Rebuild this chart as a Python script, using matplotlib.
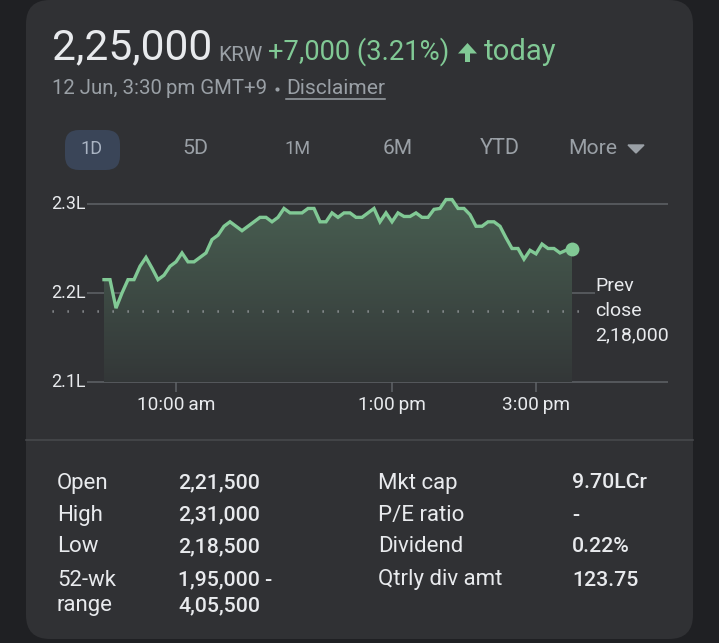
import numpy as np
import matplotlib
matplotlib.use("Agg")
import matplotlib.pyplot as plt
from matplotlib.patches import FancyBboxPatch

# ---------------- data ----------------
minutes = list(range(0, 391, 5))  # minutes after 9:00 am, 5-minute bars
prices = [221500, 221500, 218300, 220000, 221500, 221500, 223000, 224000, 222800, 221500,
          222000, 223000, 223500, 224500, 223500, 223500, 224000, 224500, 226000, 226500,
          227500, 228000, 227500, 227000, 227500, 228000, 228500, 228500, 228000, 228500,
          229500, 229000, 229000, 229000, 229500, 229500, 228000, 228000, 229000, 228500,
          229000, 229000, 228500, 228500, 229000, 229500, 228000, 229000, 228000, 229000,
          228600, 228600, 229000, 228500, 228500, 229400, 229500, 230500, 230500, 229500,
          229500, 228800, 227500, 227500, 228000, 228000, 227500, 226200, 225000, 225000,
          223800, 224800, 224400, 225500, 225000, 225000, 224500, 224800, 225000]
prev_close = 218000
y_ticks = [210000, 220000, 230000]
y_tick_labels = ["2.1L", "2.2L", "2.3L"]
x_ticks = [60, 240, 360]
x_tick_labels = ["10:00\u2009am", "1:00\u2009pm", "3:00\u2009pm"]
ranges = ["1D", "5D", "1M", "6M", "YTD", "More"]
stat_labels_left = ["Open", "High", "Low", "52-wk", "range"]
stat_values_left = ["2,21,500", "2,31,000", "2,18,500", "1,95,000 -", "4,05,500"]
stat_labels_right = ["Mkt cap", "P/E ratio", "Dividend", "Qtrly div amt"]
stat_values_right = ["9.70LCr", "-", "0.22%", "123.75"]

# ---------------- style ----------------
W, H = 719, 643
OUTER = "#1f2023"
CARD = "#303134"
GREEN = "#81c995"
WHITE = "#e8eaed"
GREY = "#9aa0a6"
GRID = "#5f6368"
FONT = ["Roboto", "DejaVu Sans"]
plt.rcParams["font.family"] = FONT

fig = plt.figure(figsize=(W / 100, H / 100), dpi=100)
fig.patch.set_facecolor(OUTER)
renderer = fig.canvas.get_renderer()

def fx(px):
    return px / W

def fy(py):
    return 1 - py / H

def fit(x, y, s, width, color, ha="left", **kw):
    """place text at pixel (x, y) (centre vertically) scaled to a target pixel width"""
    t = fig.text(fx(x), fy(y), s, fontsize=10, color=color, ha=ha, va="center", **kw)
    w = t.get_window_extent(renderer).width
    t.set_fontsize(10 * width / w)
    return t

def size_for(s, width, **kw):
    probe = fig.text(0, 0, s, fontsize=10, **kw)
    w = probe.get_window_extent(renderer).width
    probe.remove()
    return 10 * width / w

# card
bg = fig.add_axes([0, 0, 1, 1])
bg.set_xlim(0, W)
bg.set_ylim(H, 0)
bg.axis("off")
R = 24
bg.add_patch(FancyBboxPatch((26 + R, 0 + R), 667 - 2 * R, 639 - 2 * R,
                            boxstyle=f"round,pad={R}", fc=CARD, ec="none"))
bg.plot([26, 693], [440, 440], color="#46484c", lw=1.2)
# 1D highlight
bg.add_patch(FancyBboxPatch((65 + 14, 130 + 14), 55 - 28, 40 - 28,
                            boxstyle="round,pad=14", fc="#3a4558", ec="none"))

# header
fit(52, 48, "2,25,000", 159, WHITE)
fit(218, 55.5, "KRW", 44, GREY)
fit(268, 52, "+7,000 (3.21%)", 181, GREEN)
bg.fill([458, 477, 467.5], [53.5, 53.5, 43], color=GREEN, lw=0)
bg.fill([465, 470, 470, 465], [52, 52, 62, 62], color=GREEN, lw=0)
fit(484, 52, "today", 72, GREEN)
fit(52, 89, "12 Jun, 3:30\u2009pm GMT+9", 215, GREY)
bg.scatter([277], [89], s=9, color=GREY, lw=0)
fit(286, 89, "Disclaimer", 99, GREY)
bg.plot([286, 385], [99, 99], color=GREY, lw=1.1)

# range buttons
btn = [("1D", 92, 22), ("5D", 195, 26), ("1M", 297, 26), ("6M", 398, 30),
       ("YTD", 500, 40), ("More", 593, 49)]
for (lab, x, w), name in zip(btn, ranges):
    fit(x, 149, name, w, "#aab4c3" if name == "1D" else GREY, ha="center")
bg.fill([628, 644, 636], [145, 145, 153], color=GREY)

# ---------------- chart ----------------
left_px, right_px, top_px, bot_px = 40, 690, 190, 395
ax = fig.add_axes([fx(left_px), fy(bot_px), (right_px - left_px) / W, (bot_px - top_px) / H])
ax.set_facecolor("none")
ax.axis("off")
x0_px, px_per_min = 104, 1.2
y_ref_px, px_per_val = 204, 89 / 10000
ax.set_xlim((left_px - x0_px) / px_per_min, (right_px - x0_px) / px_per_min)
ax.set_ylim(230000 - (bot_px - y_ref_px) / px_per_val, 230000 + (y_ref_px - top_px) / px_per_val)

xmin_grid = (87 - x0_px) / px_per_min
xmax_grid = (668 - x0_px) / px_per_min
yfs = size_for("2.3L", 34)
for v, lab in zip(y_ticks, y_tick_labels):
    xe = xmax_grid if v != 220000 else (595 - x0_px) / px_per_min
    ax.hlines(v, xmin_grid, xe, color=GRID, lw=1.1, zorder=1)
    ax.text(xmin_grid - 1, v, lab, color=WHITE, fontsize=yfs, ha="right", va="center")

xfs = size_for(x_tick_labels[0], 78)
for t_, lab in zip(x_ticks, x_tick_labels):
    ax.vlines(t_, 210000 - 1150, 210000, color=GRID, lw=1.1)
    ax.text(t_, 210000 - 2600, lab, color=WHITE, fontsize=xfs, ha="center", va="center")

# gradient fill
poly = ax.fill_between(minutes, prices, 210000, color="none", lw=0)
ny = 200
alpha = np.linspace(0.30, 0.04, ny)[:, None]
card_rgb = np.array(matplotlib.colors.to_rgb(CARD))
green_rgb = np.array(matplotlib.colors.to_rgb(GREEN))
img = card_rgb[None, None, :] * (1 - alpha[..., None]) + green_rgb[None, None, :] * alpha[..., None]
img = np.repeat(img, 2, axis=1)
im = ax.imshow(img, extent=[minutes[0], minutes[-1], 210000, max(prices)], origin="upper",
               aspect="auto", zorder=2)
im.set_clip_path(poly.get_paths()[0], transform=ax.transData)

# prev close dotted
ax.hlines(prev_close, (52 - x0_px) / px_per_min, (588 - x0_px) / px_per_min,
          color="#9a9da1", lw=1.8, linestyles=(0, (0.5, 5.5)), zorder=3)
ax.text((595 - x0_px) / px_per_min, prev_close, "Prev\nclose\n2,18,000", color=WHITE,
        fontsize=size_for("2,18,000", 73), ha="left", va="center", linespacing=1.5)

ax.plot(minutes, prices, color=GREEN, lw=2.4, zorder=4, solid_joinstyle="miter")
ax.scatter([minutes[-1]], [prices[-1]], s=100, color=GREEN, zorder=5, lw=0)

# ---------------- stats ----------------
vfs = size_for("2,21,500", 82, fontweight="medium")
lfs = size_for("Open", 52)
row_y = [483, 515, 547, 580, 606]
for lab, val, y in zip(stat_labels_left, stat_values_left, row_y):
    fig.text(fx(57), fy(y), lab, fontsize=lfs, color=WHITE, va="center", ha="left")
    fig.text(fx(178), fy(y), val, fontsize=vfs, color=WHITE, va="center", ha="left",
             fontweight="medium")
for lab, val, y in zip(stat_labels_right, stat_values_right, row_y):
    fig.text(fx(378), fy(y), lab, fontsize=lfs, color=WHITE, va="center", ha="left")
    fig.text(fx(572), fy(y), val, fontsize=vfs, color=WHITE, va="center", ha="left",
             fontweight="medium")

fig.savefig("out.png", dpi=100, facecolor=OUTER)
